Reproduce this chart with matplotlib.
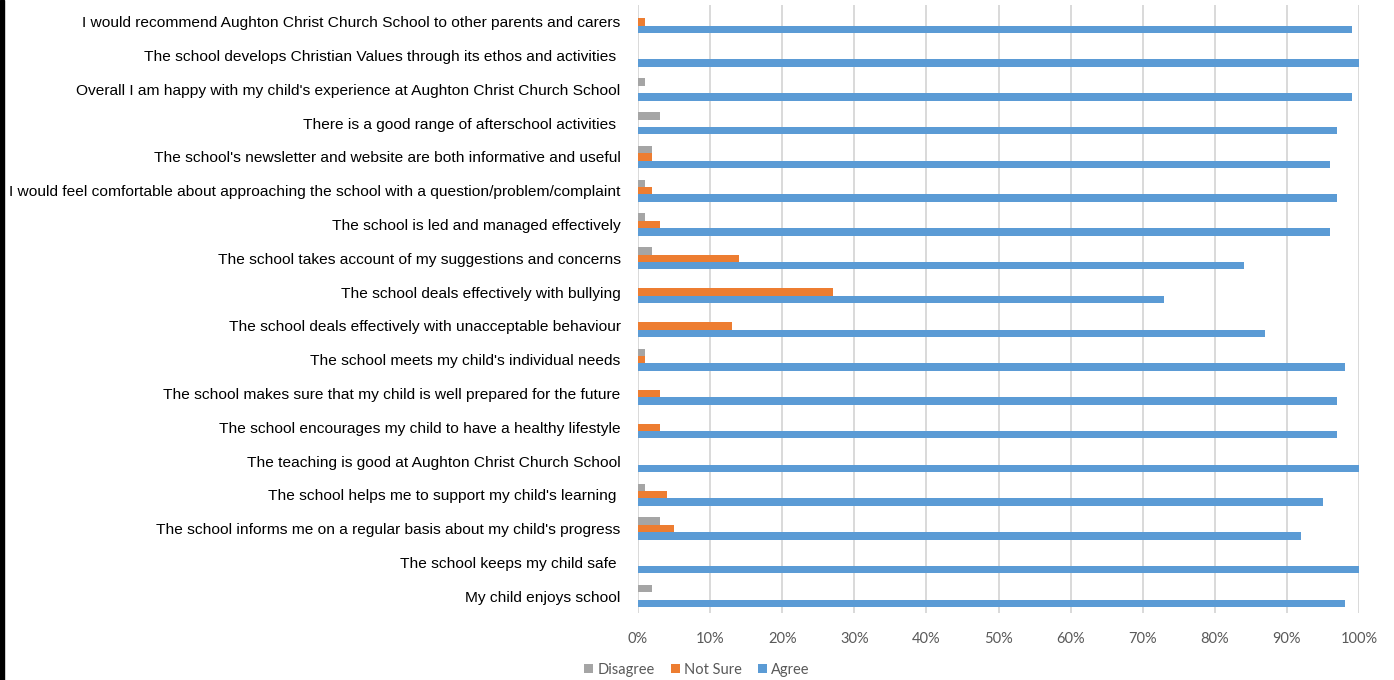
import matplotlib
matplotlib.use("Agg")
import matplotlib.pyplot as plt
import numpy as np
from matplotlib.patches import Rectangle
from matplotlib.ticker import PercentFormatter

categories = [
    "I would recommend Aughton Christ Church School to other parents and carers",
    "The school develops Christian Values through its ethos and activities ",
    "Overall I am happy with my child's experience at Aughton Christ Church School",
    "There is a good range of afterschool activities ",
    "The school's newsletter and website are both informative and useful",
    "I would feel comfortable about approaching the school with a question/problem/complaint",
    "The school is led and managed effectively",
    "The school takes account of my suggestions and concerns",
    "The school deals effectively with bullying",
    "The school deals effectively with unacceptable behaviour",
    "The school meets my child's individual needs",
    "The school makes sure that my child is well prepared for the future",
    "The school encourages my child to have a healthy lifestyle",
    "The teaching is good at Aughton Christ Church School",
    "The school helps me to support my child's learning ",
    "The school informs me on a regular basis about my child's progress",
    "The school keeps my child safe ",
    "My child enjoys school",
]
disagree = [0, 0, 1, 3, 2, 1, 1, 2, 0, 0, 1, 0, 0, 0, 1, 3, 0, 2]
not_sure = [1, 0, 0, 0, 2, 2, 3, 14, 27, 13, 1, 3, 3, 0, 4, 5, 0, 0]
agree = [99, 100, 99, 97, 96, 97, 96, 84, 73, 87, 98, 97, 97, 100, 95, 92, 100, 98]
series_names = ["Disagree", "Not Sure", "Agree"]
colors = ["#a5a5a5", "#ed7d31", "#5b9bd5"]
xticks = list(range(0, 101, 10))

W, H = 1394, 680
fig = plt.figure(figsize=(W / 100, H / 100), dpi=100)
ax = fig.add_axes([638 / W, 1 - 613 / H, (1359 - 638) / W, (613 - 5) / H])

y = np.arange(len(categories))
bh = 0.22
for vals, off, col, name in zip([disagree, not_sure, agree], [-bh, 0, bh], colors, series_names):
    ax.barh(y + off, vals, height=bh, color=col, label=name, zorder=3)

ax.set_ylim(len(categories) - 0.5, -0.5)
ax.set_xlim(0, 100)
ax.set_xticks(xticks)
ax.xaxis.set_major_formatter(PercentFormatter(decimals=0))
ax.set_yticks(y)
ax.set_yticklabels(categories, fontfamily="Liberation Sans", fontsize=11.15, color="#000000")
ax.tick_params(axis="y", length=0, pad=12.5)
ax.tick_params(axis="x", length=0, pad=14, labelsize=10.5, labelcolor="#595959")
for lbl in ax.get_xticklabels():
    lbl.set_fontfamily("Lato")
ax.grid(axis="x", color="#d9d9d9", linewidth=1.4, zorder=0)
for s in ax.spines.values():
    s.set_visible(False)

handles, labels = ax.get_legend_handles_labels()
leg = fig.legend(handles, labels, loc="center", bbox_to_anchor=(0.5, 1 - 670 / H), ncol=3,
                 frameon=False, prop={"family": "Lato", "size": 10.5}, handlelength=0.6,
                 handleheight=0.6, handletextpad=0.3, columnspacing=1.1)
for t in leg.get_texts():
    t.set_color("#595959")

fig.patches.append(Rectangle((0, 0), 4 / W, 1, transform=fig.transFigure, color="#000000", zorder=10))

fig.savefig("out.png", dpi=100)
